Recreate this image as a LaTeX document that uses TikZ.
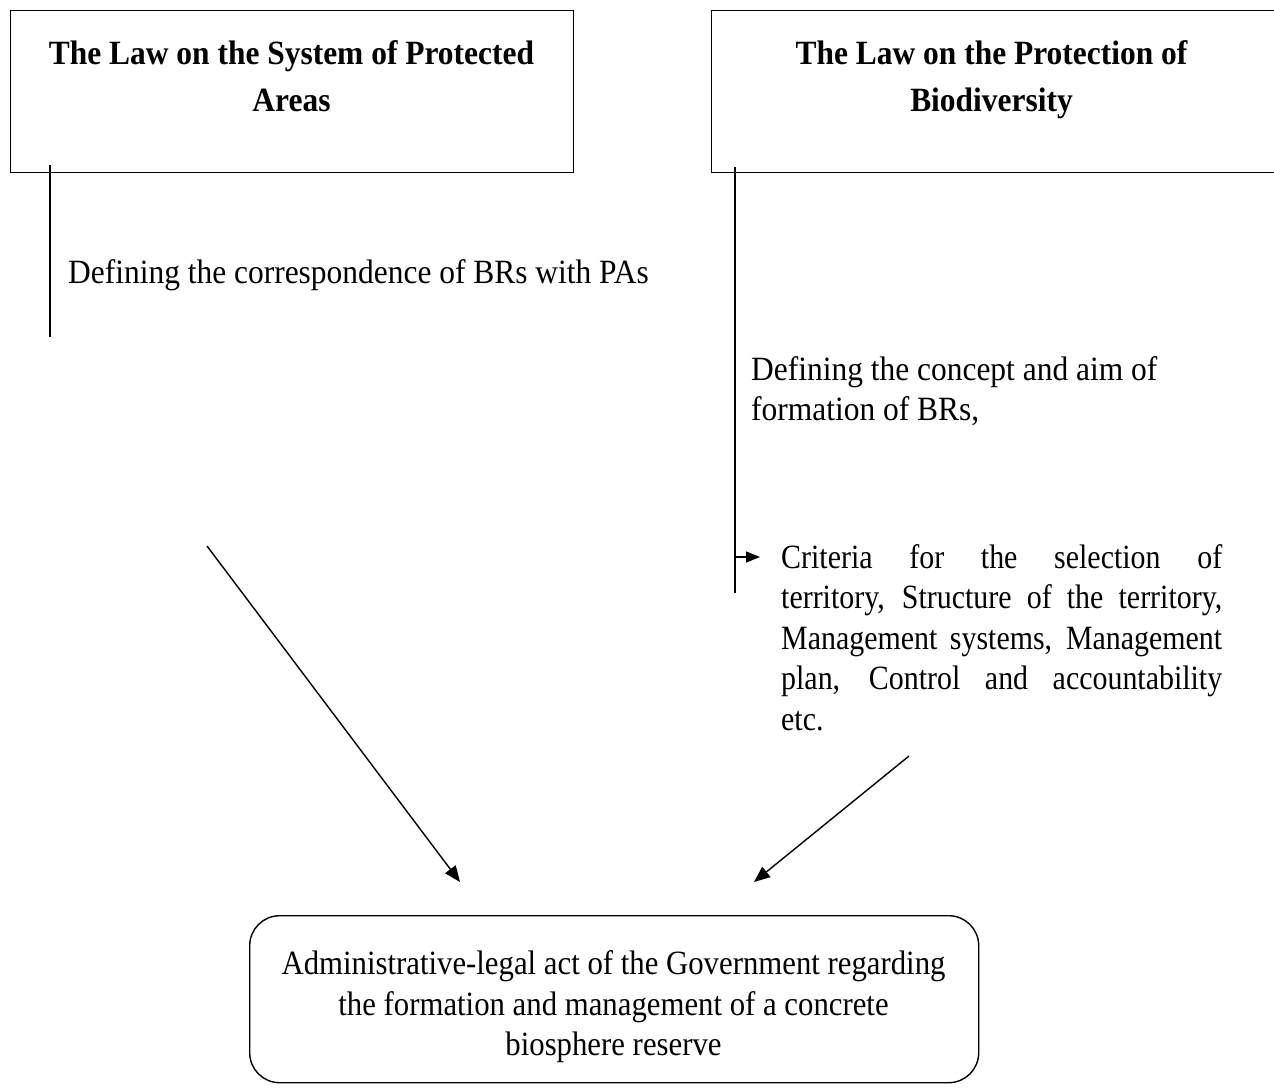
\documentclass[tikz,border=0pt]{standalone}
\usepackage{fontspec}
\setmainfont[FakeStretch=0.925]{Liberation Serif}
\newfontfamily\critserif[FakeStretch=0.88]{Liberation Serif}
\newfontfamily\actserif[FakeStretch=0.905]{Liberation Serif}
\usetikzlibrary{arrows.meta}
\newcommand\nohyphen{\hyphenpenalty=10000 \exhyphenpenalty=10000 }

\tikzset{
  lawbox/.style={draw, line width=1.4pt, minimum width=563pt, minimum height=162pt, anchor=north west, inner sep=0pt},
  lawtitle/.style={font=\bfseries\fontsize{34}{47}\selectfont, align=center, inner sep=0pt},
  body/.style={font=\fontsize{34}{40.5}\selectfont, inner sep=0pt},
  link/.style={line width=1.4pt},
  flow/.style={line width=1.4pt, -{Triangle[length=16pt, width=13pt]}},
  actbox/.style={draw, line width=1.4pt, rounded corners=30pt, minimum width=729pt, minimum height=167pt, anchor=north west, inner sep=0pt}
}

\begin{document}
\begin{tikzpicture}[x=1pt, y=-1pt]
\useasboundingbox (0,0) rectangle (1274,1091);
\fill[white] (0,0) rectangle (1274,1091);

% the two laws
\node[lawbox] (sys) at (10,10) {};
\node[lawtitle] (systitle) at (291.5,76) {The Law on the System of Protected\\Areas};
\node[lawbox] (bio) at (711,10) {};
\node[lawtitle] (biotitle) at (991.5,80) {The Law on the Protection of\\Biodiversity};

% left branch
\coordinate (sysTop) at (50,165);
\coordinate (sysEnd) at (50,337);
\draw[link] (sysTop) -- (sysEnd);
\node[body, anchor=west] (corr) at (68,275) {Defining the correspondence of BRs with PAs};

% right branch
\coordinate (bioTop) at (735,167);
\coordinate (bioEnd) at (735,593);
\draw[link] (bioTop) -- (bioEnd);
\node[body, anchor=west, align=left] (concept) at (751,391) {Defining the concept and aim of\\formation of BRs,};
\node[body, font=\critserif\fontsize{34}{40.5}\selectfont,
      anchor=north west, text width=441pt, align=justify] (criteria) at (781,544)
  {\nohyphen Criteria for the selection of\linebreak territory, Structure of the territory,\linebreak Management systems, Management\linebreak plan, Control and accountability\linebreak etc.};
\coordinate (critArrow) at (735,557);
\draw[line width=1.4pt, -{Triangle[length=14pt, width=11pt]}] (critArrow) -- (760,557);

% resulting act
\node[actbox] (act) at (249,915) {};
\node[body, font=\actserif\fontsize{34}{40.5}\selectfont, align=center] (acttext) at (613.5,1007) {Administrative-legal act of the Government regarding\\the formation and management of a concrete\\biosphere reserve};

\coordinate (leftFrom) at (207,546);
\coordinate (leftTo) at (460,882);
\coordinate (rightFrom) at (909,756);
\coordinate (rightTo) at (754,882);
\draw[flow] (leftFrom) -- (leftTo);
\draw[flow] (rightFrom) -- (rightTo);
\end{tikzpicture}
\end{document}
